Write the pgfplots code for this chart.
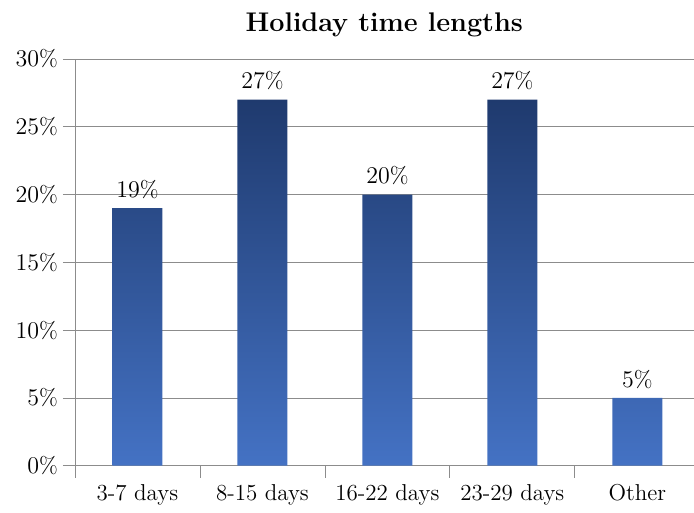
\documentclass[border=0pt]{standalone}
\usepackage{pgfplots}
\pgfplotsset{compat=1.18}
\definecolor{bartop}{HTML}{1F3A6E}
\definecolor{barbot}{HTML}{4472C4}
\definecolor{axgray}{HTML}{8C8C8C}
\begin{document}
\begin{tikzpicture}
\begin{axis}[
  scale only axis,
  width=309.5pt, height=203.5pt,
  xmin=-0.5, xmax=4.45,
  ymin=0, ymax=30,
  ytick={0,5,...,30},
  yticklabel={\pgfmathprintnumber{\tick}\%},
  xtick={0,1,2,3,4},
  xticklabels={3-7 days,8-15 days,16-22 days,23-29 days,Other},
  minor xtick={-0.5,0.5,1.5,2.5,3.5},
  major x tick style={draw=none},
  minor x tick style={axgray, thin},
  y tick style={axgray, thin},
  tick align=outside,
  major tick length=6pt,
  minor tick length=6pt,
  axis x line*=bottom,
  axis y line*=left,
  axis line style={axgray, thin},
  ymajorgrids,
  grid style={axgray, thin},
  ybar, bar width=0.4,
  title={\bfseries Holiday time lengths},
  title style={font=\fontsize{13.5}{16}\selectfont, yshift=1.5pt},
  tick label style={font=\fontsize{11.5}{14}\selectfont},
  yticklabel style={xshift=1pt},
  xticklabel style={yshift=0pt},
  nodes near coords={\pgfmathprintnumber{\pgfplotspointmeta}\%},
  nodes near coords style={font=\fontsize{11.5}{14}\selectfont, inner sep=2pt, yshift=2.5pt},
  clip=false,
]
\addplot[draw=none, top color=bartop, bottom color=barbot, shading=axis] coordinates {(0,19) (1,27) (2,20) (3,27) (4,5)};
\end{axis}
\path ([xshift=-37.5pt, yshift=29.5pt]current axis.north west) circle (0pt);
\end{tikzpicture}
\end{document}
